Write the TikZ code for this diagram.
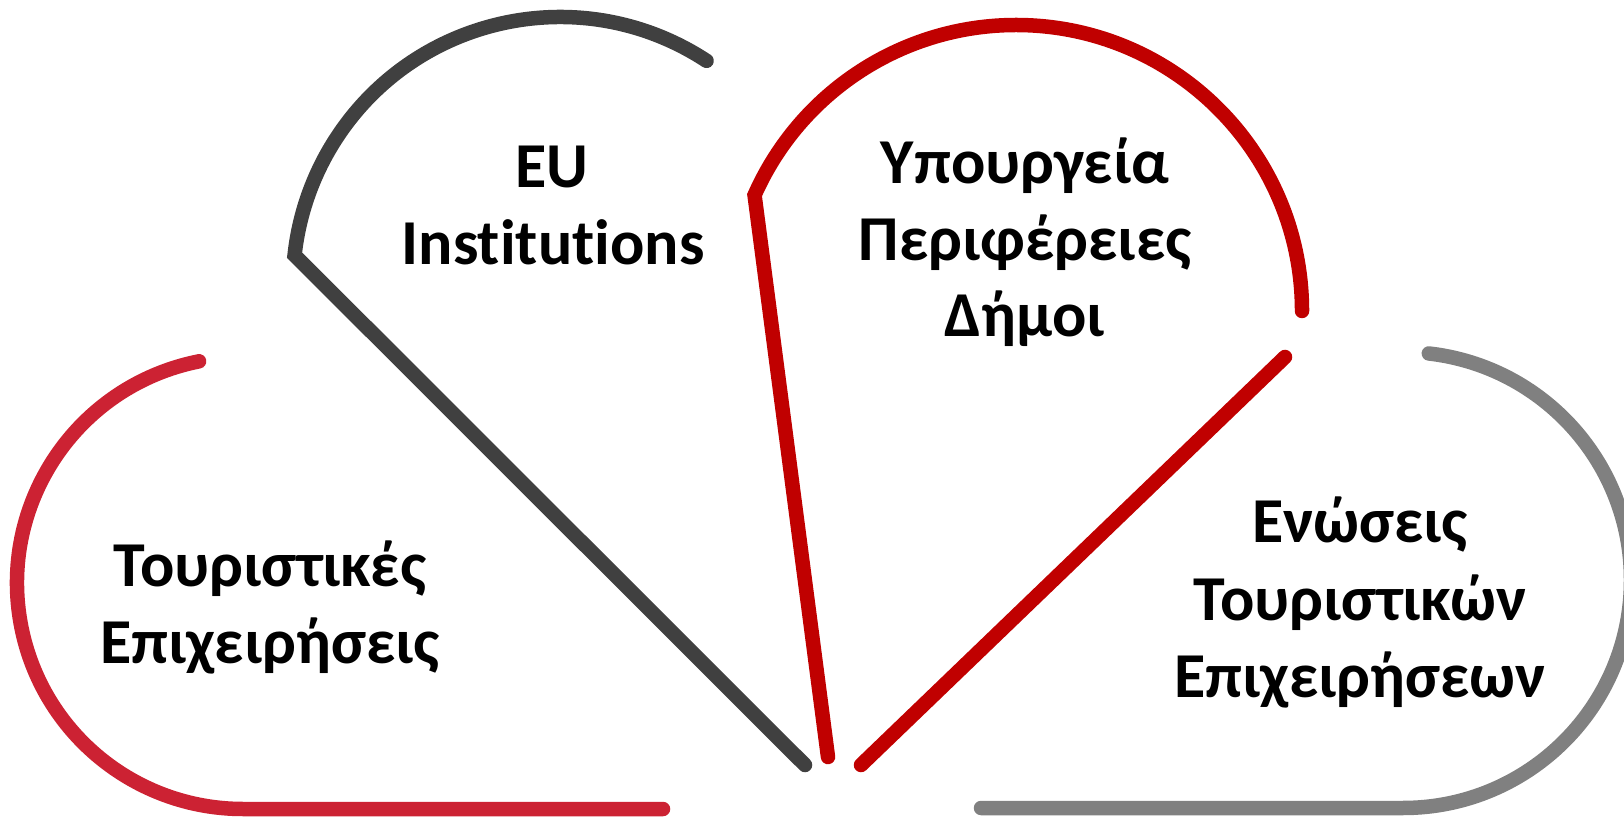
\documentclass[tikz,border=0pt]{standalone}
\usepackage{fontspec}
\setmainfont{Carlito}[Ligatures={NoCommon}]
\definecolor{lred}{RGB}{204,34,51}
\definecolor{dgray}{RGB}{64,64,64}
\definecolor{dred}{RGB}{192,0,0}
\definecolor{mgray}{RGB}{128,128,128}
\tikzset{
  band/.style={line width=14.5pt, line cap=round, line join=miter},
  lbl/.style={anchor=base, inner sep=0pt, font=\fontsize{64}{76}\selectfont\bfseries, text=black}
}
\begin{document}
\begin{tikzpicture}[x=1pt,y=1pt]
\useasboundingbox (0,0) rectangle (1624,817);
\clip (0,0) rectangle (1624,817);
% named points
\coordinate (lc) at (243,234);
\coordinate (lend) at (663,8);
\coordinate (ec) at (560,533);
\coordinate (eend) at (805,52);
\coordinate (rc) at (1016,506);
\coordinate (rend) at (828,60);
\coordinate (sa) at (1285,460);
\coordinate (sb) at (861,52);
\coordinate (gc) at (1403,237);
\coordinate (gstart) at (981,9);
% left crimson
\draw[band, lred] (lc) ++(101.2:226) arc[start angle=101.2, end angle=270, radius=226] -- (lend);
% EU dark gray
\draw[band, dgray] (ec) ++(56.7:267) arc[start angle=56.7, end angle=173.8, radius=267] -- (eend);
% red top
\draw[band, dred] (rc) ++(0:286) arc[start angle=0, end angle=156.1, radius=286] -- (rend);
\draw[band, dred] (sa) -- (sb);
% right gray
\draw[band, mgray] (gstart) -- (1403,9) arc[start angle=-90, end angle=83.5, radius=228];
% texts
\node[lbl] (eu1) at (552,629) {EU};
\node[lbl] (eu2) at (553,552) {Institutions};
\node[lbl] (m1) at (1025,633) {Υπουργεία};
\node[lbl] (m2) at (1025,556) {Περιφέρειες};
\node[lbl] (m3) at (1025,480) {Δήμοι};
\node[lbl] (t1) at (270,231) {Τουριστικές};
\node[lbl] (t2) at (270,154) {Επιχειρήσεις};
\node[lbl] (u1) at (1360,274) {Ενώσεις};
\node[lbl] (u2) at (1360,197) {Τουριστικών};
\node[lbl] (u3) at (1360,120) {Επιχειρήσεων};
\end{tikzpicture}
\end{document}
